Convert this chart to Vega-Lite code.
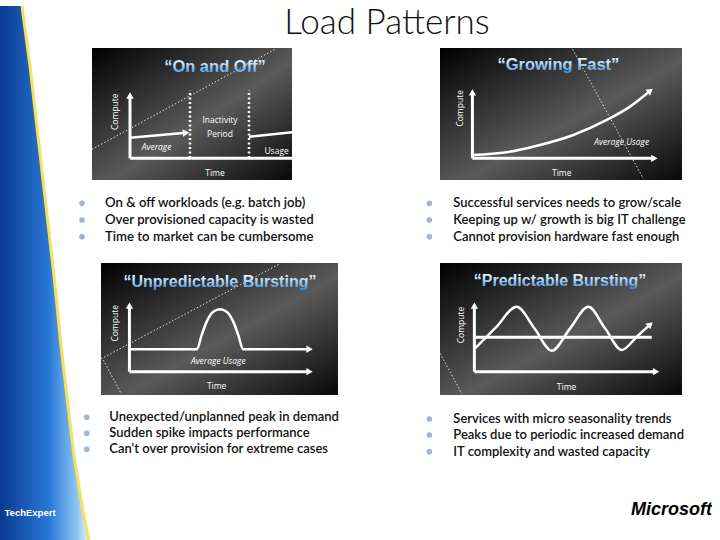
{
"$schema": "https://vega.github.io/schema/vega-lite/v6.json",
"padding": 0,
"background": "white",
"config": {"view": {"stroke": null}, "font": "Lato"},
"bounds": "flush",
"spacing": 0,
"datasets": {
"none": [],
"strip": [{"v":0,"u":28.9},{"v":11.1,"u":39.5},{"v":24.1,"u":50},{"v":37,"u":60.5},{"v":50,"u":71.1},{"v":63,"u":80.3},{"v":74.1,"u":89.5},{"v":83.3,"u":97.4},{"v":92.6,"u":107.9},{"v":100,"u":118.4}],
"axes": [
{"p":"A","s":"y","o":0,"u":19,"v":16.4},{"p":"A","s":"y","o":1,"u":19,"v":64},
{"p":"A","s":"x","o":0,"u":19,"v":16.4},{"p":"A","s":"x","o":1,"u":100,"v":16.4},
{"p":"B","s":"y","o":0,"u":13.4,"v":16.4},{"p":"B","s":"y","o":1,"u":13.4,"v":65},
{"p":"B","s":"x","o":0,"u":13.4,"v":16.4},{"p":"B","s":"x","o":1,"u":88.5,"v":16.4},
{"p":"C","s":"y","o":0,"u":12,"v":17.7},{"p":"C","s":"y","o":1,"u":12,"v":68},
{"p":"C","s":"x","o":0,"u":12,"v":17.7},{"p":"C","s":"x","o":1,"u":88,"v":17.7},
{"p":"D","s":"y","o":0,"u":14.2,"v":17.7},{"p":"D","s":"y","o":1,"u":14.2,"v":68},
{"p":"D","s":"x","o":0,"u":14.2,"v":17.7},{"p":"D","s":"x","o":1,"u":89.3,"v":17.7},
{"p":"D","s":"avg","o":0,"u":14.2,"v":43.7},{"p":"D","s":"avg","o":1,"u":87.5,"v":43.7}
],
"curves": [
{"p":"A","s":"u1","o":0,"u":19,"v":32},{"p":"A","s":"u1","o":1,"u":47,"v":35.8},
{"p":"A","s":"u2","o":0,"u":78.5,"v":32.8},{"p":"A","s":"u2","o":1,"u":100,"v":36.1},
{"p":"B","s":"g","o":0,"u":13.4,"v":18.9},{"p":"B","s":"g","o":1,"u":27.5,"v":21},{"p":"B","s":"g","o":2,"u":41.3,"v":26.5},{"p":"B","s":"g","o":3,"u":55.1,"v":34.1},{"p":"B","s":"g","o":4,"u":68.9,"v":45.5},{"p":"B","s":"g","o":5,"u":78.5,"v":55.6},{"p":"B","s":"g","o":6,"u":86.9,"v":67.6},
{"p":"C","s":"b","o":0,"u":12,"v":34.6},{"p":"C","s":"b","o":1,"u":40.4,"v":34.6},{"p":"C","s":"b","o":2,"u":42.5,"v":45.5},{"p":"C","s":"b","o":3,"u":44.6,"v":55.6},{"p":"C","s":"b","o":4,"u":47.4,"v":63.1},{"p":"C","s":"b","o":5,"u":50.2,"v":64.9},{"p":"C","s":"b","o":6,"u":53,"v":63.1},{"p":"C","s":"b","o":7,"u":55.8,"v":55.6},{"p":"C","s":"b","o":8,"u":57.9,"v":45.5},{"p":"C","s":"b","o":9,"u":60,"v":34.6},{"p":"C","s":"b","o":10,"u":88,"v":34.6},
{"p":"D","s":"w","o":0,"u":14.5,"v":35.4},{"p":"D","s":"w","o":1,"u":23,"v":51},{"p":"D","s":"w","o":2,"u":31.7,"v":66.9},{"p":"D","s":"w","o":3,"u":39,"v":50.5},{"p":"D","s":"w","o":4,"u":46.2,"v":33.6},{"p":"D","s":"w","o":5,"u":53.7,"v":50.3},{"p":"D","s":"w","o":6,"u":61.3,"v":66.9},{"p":"D","s":"w","o":7,"u":68.2,"v":50.5},{"p":"D","s":"w","o":8,"u":75.1,"v":34.1},{"p":"D","s":"w","o":9,"u":81.5,"v":44.5},{"p":"D","s":"w","o":10,"u":86.9,"v":53.5}
],
"arrows": [
{"p":"A","u":19,"v":64,"a":-90},{"p":"A","u":47,"v":35.8,"a":-5},
{"p":"B","u":13.4,"v":66.4,"a":-90},{"p":"B","u":88.6,"v":16.4,"a":0},{"p":"B","u":86.9,"v":67.6,"a":-38},
{"p":"C","u":12,"v":67.7,"a":-90},{"p":"C","u":88,"v":17.7,"a":0},{"p":"C","u":88,"v":34.6,"a":0},
{"p":"D","u":14.2,"v":67.7,"a":-90},{"p":"D","u":89.3,"v":17.7,"a":0},{"p":"D","u":86.9,"v":53.5,"a":-42}
],
"dotted": [{"p":"A","u":49,"v":16.7,"u2":49,"v2":68},{"p":"A","u":78.5,"v":16.7,"u2":78.5,"v2":68}],
"deco": [
{"p":"A","u":0,"v":23.2,"u2":91.5,"v2":99},
{"p":"B","u":54.8,"v":99,"u2":84,"v2":1},
{"p":"C","u":0,"v":27.4,"u2":75,"v2":99},
{"p":"C","u":1,"v":26.5,"u2":8.5,"v2":1},
{"p":"D","u":0,"v":31.6,"u2":9,"v2":1}
],
"labels": [
{"p":"A","k":"plain","t":"Inactivity","u":64,"v":45.5},
{"p":"A","k":"plain","t":"Period","u":64,"v":34.6},
{"p":"A","k":"italic","t":"Average","u":32.3,"v":25.2},
{"p":"A","k":"plain","t":"Usage","u":92.3,"v":22},
{"p":"A","k":"plain","t":"Time","u":61.5,"v":5.5},
{"p":"A","k":"vert","t":"Compute","u":11.5,"v":51.7},
{"p":"B","k":"italic","t":"Average Usage","u":75.1,"v":29},
{"p":"B","k":"plain","t":"Time","u":50.3,"v":5.5},
{"p":"B","k":"vert","t":"Compute","u":8.3,"v":54.3},
{"p":"C","k":"italic","t":"Average Usage","u":49.5,"v":26},
{"p":"C","k":"plain","t":"Time","u":48.8,"v":6.8},
{"p":"C","k":"vert","t":"Compute","u":5.9,"v":54.3},
{"p":"D","k":"plain","t":"Time","u":52.3,"v":6.3},
{"p":"D","k":"vert","t":"Compute","u":8.5,"v":53}
],
"titles": [
{"p":"A","t":"“On and Off”","u":61.5,"v":85.8},
{"p":"B","t":"“Growing Fast”","u":48.9,"v":87.1},
{"p":"C","t":"“Unpredictable Bursting”","u":50.2,"v":85.8},
{"p":"D","t":"“Predictable Bursting”","u":49.6,"v":86.6}
],
"bullets": [
{"p":"A","ud":1.65,"ut":7.97,"v":28.1,"t":"On & off workloads (e.g. batch job)"},
{"p":"A","ud":1.65,"ut":7.97,"v":48.2,"t":"Over provisioned capacity is wasted"},
{"p":"A","ud":1.65,"ut":7.97,"v":68.3,"t":"Time to market can be cumbersome"},
{"p":"B","ud":-4.4,"ut":5.5,"v":28.1,"t":"Successful services needs to grow/scale"},
{"p":"B","ud":-4.4,"ut":5.5,"v":48.2,"t":"Keeping up w/ growth is big IT challenge"},
{"p":"B","ud":-4.4,"ut":5.5,"v":68.3,"t":"Cannot provision hardware fast enough"},
{"p":"C","ud":2.94,"ut":9.15,"v":26.2,"t":"Unexpected/unplanned peak in demand"},
{"p":"C","ud":2.94,"ut":9.15,"v":45.1,"t":"Sudden spike impacts performance"},
{"p":"C","ud":2.94,"ut":9.15,"v":63.9,"t":"Can't over provision for extreme cases"},
{"p":"D","ud":-4.4,"ut":5.5,"v":28.2,"t":"Services with micro seasonality trends"},
{"p":"D","ud":-4.4,"ut":5.5,"v":47.1,"t":"Peaks due to periodic increased demand"},
{"p":"D","ud":-4.4,"ut":5.5,"v":66.7,"t":"IT complexity and wasted capacity"}
]
},
"hconcat": [
{"width": 76, "height": 540, "data": {"name": "strip"},
 "encoding": {"y": {"field": "v", "type": "quantitative", "scale": {"domain": [0, 100], "reverse": true, "nice": false, "zero": false}, "axis": null},
              "x": {"field": "u", "type": "quantitative", "scale": {"domain": [0, 100], "nice": false, "zero": false}, "axis": null, "stack": null}},
 "layer": [
  {"mark": {"type": "area", "orient": "horizontal", "color": {"gradient": "linear", "x1": 0, "y1": 0, "x2": 1, "y2": 0, "stops": [{"offset": 0, "color": "#0a3a92"}, {"offset": 0.55, "color": "#2a78d8"}, {"offset": 0.85, "color": "#8cc4f2"}, {"offset": 1, "color": "#e8f4ff"}]}}, "encoding": {"x2": {"datum": 0}}},
  {"mark": {"type": "line", "color": "#f2e25c", "strokeWidth": 3}, "encoding": {"order": {"field": "v"}}},
  {"data": {"values": [{"u": 39.5, "v": 94.4, "t": "TechExpert"}]}, "mark": {"type": "text", "color": "white", "fontWeight": "bold", "fontSize": 9.5, "font": "Liberation Sans", "baseline": "alphabetic"}, "encoding": {"text": {"field": "t"}}},
  {"data": {"values": [{"u": 509.2, "v": 5.26, "t": "Load Patterns"}]}, "mark": {"type": "text", "fontSize": 35, "font": "Lato", "fontWeight": 300, "color": "#111111", "baseline": "alphabetic", "align": "center"}, "encoding": {"text": {"field": "t"}}}
 ]},
{"vconcat": [
 {"width": 606, "height": 42, "data": {"name": "none"}, "mark": {"type": "point", "opacity": 0}},
 {"hconcat": [
  {"width": 16, "height": 132, "data": {"name": "none"}, "mark": {"type": "point", "opacity": 0}},
  {"hconcat": [
  {"width": 200, "height": 132,
   "view": {"fill": {"gradient": "linear", "x1": 0, "y1": 0, "x2": 1, "y2": 1, "stops": [{"offset": 0, "color": "#000000"}, {"offset": 0.55, "color": "#5a5a5a"}, {"offset": 1, "color": "#080808"}]}, "stroke": null},
   "encoding": {"x": {"field": "u", "type": "quantitative", "scale": {"domain": [0, 100], "nice": false, "zero": false}, "axis": null}, "y": {"field": "v", "type": "quantitative", "scale": {"domain": [0, 100], "nice": false, "zero": false}, "axis": null}},
   "layer": [
    {"data": {"name": "deco"}, "transform": [{"filter": "datum.p === 'A'"}], "mark": {"type": "rule", "color": "#ffffff", "strokeWidth": 1, "strokeDash": [1.5, 2], "opacity": 0.85}, "encoding": {"x2": {"field": "u2"}, "y2": {"field": "v2"}}},
    {"data": {"name": "dotted"}, "transform": [{"filter": "datum.p === 'A'"}], "mark": {"type": "rule", "color": "#ffffff", "strokeWidth": 2.5, "strokeDash": [2, 2.5]}, "encoding": {"x2": {"field": "u2"}, "y2": {"field": "v2"}}},
    {"data": {"name": "axes"}, "transform": [{"filter": "datum.p === 'A'"}], "mark": {"type": "line", "color": "#ffffff", "strokeWidth": 3}, "encoding": {"detail": {"field": "s"}, "order": {"field": "o"}}},
    {"data": {"name": "curves"}, "transform": [{"filter": "datum.p === 'A'"}], "mark": {"type": "line", "color": "#ffffff", "strokeWidth": 2.5, "interpolate": "monotone"}, "encoding": {"detail": {"field": "s"}, "order": {"field": "o"}}},
    {"data": {"name": "arrows"}, "transform": [{"filter": "datum.p === 'A'"}], "mark": {"type": "point", "shape": "triangle-right", "filled": true, "color": "#ffffff", "size": 55, "opacity": 1}, "encoding": {"angle": {"field": "a", "type": "quantitative", "scale": null}}},
    {"data": {"name": "labels"}, "transform": [{"filter": "datum.p === 'A' && datum.k === 'plain'"}], "mark": {"type": "text", "color": "#ffffff", "fontSize": 8.5, "font": "Open Sans"}, "encoding": {"text": {"field": "t"}}},
    {"data": {"name": "labels"}, "transform": [{"filter": "datum.p === 'A' && datum.k === 'italic'"}], "mark": {"type": "text", "color": "#ffffff", "fontSize": 8.5, "font": "Open Sans", "fontStyle": "italic"}, "encoding": {"text": {"field": "t"}}},
    {"data": {"name": "labels"}, "transform": [{"filter": "datum.p === 'A' && datum.k === 'vert'"}], "mark": {"type": "text", "color": "#ffffff", "fontSize": 8.5, "font": "Open Sans", "angle": 270}, "encoding": {"text": {"field": "t"}}},
    {"data": {"name": "titles"}, "transform": [{"filter": "datum.p === 'A'"}], "mark": {"type": "text", "fontSize": 16.5, "fontWeight": "bold", "font": "Liberation Sans", "color": {"gradient": "linear", "x1": 0, "y1": 0, "x2": 0, "y2": 1, "stops": [{"offset": 0, "color": "#ffffff"}, {"offset": 0.45, "color": "#b8dcf8"}, {"offset": 1, "color": "#3a8ad8"}]}}, "encoding": {"text": {"field": "t"}}}
   ]},
  {"width": 242, "height": 132,
   "view": {"fill": {"gradient": "linear", "x1": 0, "y1": 0, "x2": 1, "y2": 1, "stops": [{"offset": 0, "color": "#000000"}, {"offset": 0.55, "color": "#5a5a5a"}, {"offset": 1, "color": "#080808"}]}, "stroke": null},
   "encoding": {"x": {"field": "u", "type": "quantitative", "scale": {"domain": [0, 100], "nice": false, "zero": false}, "axis": null}, "y": {"field": "v", "type": "quantitative", "scale": {"domain": [0, 100], "nice": false, "zero": false}, "axis": null}},
   "layer": [
    {"data": {"name": "deco"}, "transform": [{"filter": "datum.p === 'B'"}], "mark": {"type": "rule", "color": "#ffffff", "strokeWidth": 1, "strokeDash": [1.5, 2], "opacity": 0.85}, "encoding": {"x2": {"field": "u2"}, "y2": {"field": "v2"}}},
    {"data": {"name": "axes"}, "transform": [{"filter": "datum.p === 'B'"}], "mark": {"type": "line", "color": "#ffffff", "strokeWidth": 3}, "encoding": {"detail": {"field": "s"}, "order": {"field": "o"}}},
    {"data": {"name": "curves"}, "transform": [{"filter": "datum.p === 'B'"}], "mark": {"type": "line", "color": "#ffffff", "strokeWidth": 2.5, "interpolate": "monotone"}, "encoding": {"detail": {"field": "s"}, "order": {"field": "o"}}},
    {"data": {"name": "arrows"}, "transform": [{"filter": "datum.p === 'B'"}], "mark": {"type": "point", "shape": "triangle-right", "filled": true, "color": "#ffffff", "size": 55, "opacity": 1}, "encoding": {"angle": {"field": "a", "type": "quantitative", "scale": null}}},
    {"data": {"name": "labels"}, "transform": [{"filter": "datum.p === 'B' && datum.k === 'plain'"}], "mark": {"type": "text", "color": "#ffffff", "fontSize": 8.5, "font": "Open Sans"}, "encoding": {"text": {"field": "t"}}},
    {"data": {"name": "labels"}, "transform": [{"filter": "datum.p === 'B' && datum.k === 'italic'"}], "mark": {"type": "text", "color": "#ffffff", "fontSize": 8.5, "font": "Open Sans", "fontStyle": "italic"}, "encoding": {"text": {"field": "t"}}},
    {"data": {"name": "labels"}, "transform": [{"filter": "datum.p === 'B' && datum.k === 'vert'"}], "mark": {"type": "text", "color": "#ffffff", "fontSize": 8.5, "font": "Open Sans", "angle": 270}, "encoding": {"text": {"field": "t"}}},
    {"data": {"name": "titles"}, "transform": [{"filter": "datum.p === 'B'"}], "mark": {"type": "text", "fontSize": 16.5, "fontWeight": "bold", "font": "Liberation Sans", "color": {"gradient": "linear", "x1": 0, "y1": 0, "x2": 0, "y2": 1, "stops": [{"offset": 0, "color": "#ffffff"}, {"offset": 0.45, "color": "#b8dcf8"}, {"offset": 1, "color": "#3a8ad8"}]}}, "encoding": {"text": {"field": "t"}}}
   ]}
  ], "spacing": 148, "bounds": "flush"}
 ], "spacing": 0, "bounds": "flush"},
 {"hconcat": [
  {"width": 364, "height": 83, "data": {"name": "bullets"}, "transform": [{"filter": "datum.p === 'A'"}],
   "encoding": {"y": {"field": "v", "type": "quantitative", "scale": {"domain": [0, 100], "reverse": true}, "axis": null}},
   "layer": [
    {"mark": {"type": "point", "filled": true, "color": "#9db7dc", "size": 32, "opacity": 1}, "encoding": {"x": {"field": "ud", "type": "quantitative", "scale": {"domain": [0, 100]}, "axis": null}}},
    {"mark": {"type": "text", "align": "left", "font": "Lato", "fontSize": 13.2, "fontWeight": 600, "color": "#111111"}, "encoding": {"x": {"field": "ut", "type": "quantitative", "scale": {"domain": [0, 100]}, "axis": null}, "text": {"field": "t"}}}
   ]},
  {"width": 242, "height": 83, "data": {"name": "bullets"}, "transform": [{"filter": "datum.p === 'B'"}],
   "encoding": {"y": {"field": "v", "type": "quantitative", "scale": {"domain": [0, 100], "reverse": true}, "axis": null}},
   "layer": [
    {"mark": {"type": "point", "filled": true, "color": "#9db7dc", "size": 32, "opacity": 1}, "encoding": {"x": {"field": "ud", "type": "quantitative", "scale": {"domain": [0, 100]}, "axis": null}}},
    {"mark": {"type": "text", "align": "left", "font": "Lato", "fontSize": 13, "fontWeight": 600, "color": "#111111"}, "encoding": {"x": {"field": "ut", "type": "quantitative", "scale": {"domain": [0, 100]}, "axis": null}, "text": {"field": "t"}}}
   ]}
 ], "spacing": 0, "bounds": "flush"},
 {"hconcat": [
  {"width": 25, "height": 132, "data": {"name": "none"}, "mark": {"type": "point", "opacity": 0}},
  {"hconcat": [
   {"width": 237, "height": 132,
    "view": {"fill": {"gradient": "linear", "x1": 0, "y1": 0, "x2": 1, "y2": 1, "stops": [{"offset": 0, "color": "#000000"}, {"offset": 0.55, "color": "#5a5a5a"}, {"offset": 1, "color": "#080808"}]}, "stroke": null},
    "encoding": {"x": {"field": "u", "type": "quantitative", "scale": {"domain": [0, 100], "nice": false, "zero": false}, "axis": null}, "y": {"field": "v", "type": "quantitative", "scale": {"domain": [0, 100], "nice": false, "zero": false}, "axis": null}},
    "layer": [
     {"data": {"name": "deco"}, "transform": [{"filter": "datum.p === 'C'"}], "mark": {"type": "rule", "color": "#ffffff", "strokeWidth": 1, "strokeDash": [1.5, 2], "opacity": 0.85}, "encoding": {"x2": {"field": "u2"}, "y2": {"field": "v2"}}},
     {"data": {"name": "axes"}, "transform": [{"filter": "datum.p === 'C'"}], "mark": {"type": "line", "color": "#ffffff", "strokeWidth": 3}, "encoding": {"detail": {"field": "s"}, "order": {"field": "o"}}},
     {"data": {"name": "curves"}, "transform": [{"filter": "datum.p === 'C'"}], "mark": {"type": "line", "color": "#ffffff", "strokeWidth": 2.5, "interpolate": "monotone"}, "encoding": {"detail": {"field": "s"}, "order": {"field": "o"}}},
     {"data": {"name": "arrows"}, "transform": [{"filter": "datum.p === 'C'"}], "mark": {"type": "point", "shape": "triangle-right", "filled": true, "color": "#ffffff", "size": 55, "opacity": 1}, "encoding": {"angle": {"field": "a", "type": "quantitative", "scale": null}}},
     {"data": {"name": "labels"}, "transform": [{"filter": "datum.p === 'C' && datum.k === 'plain'"}], "mark": {"type": "text", "color": "#ffffff", "fontSize": 8.5, "font": "Open Sans"}, "encoding": {"text": {"field": "t"}}},
     {"data": {"name": "labels"}, "transform": [{"filter": "datum.p === 'C' && datum.k === 'italic'"}], "mark": {"type": "text", "color": "#ffffff", "fontSize": 8.5, "font": "Open Sans", "fontStyle": "italic"}, "encoding": {"text": {"field": "t"}}},
     {"data": {"name": "labels"}, "transform": [{"filter": "datum.p === 'C' && datum.k === 'vert'"}], "mark": {"type": "text", "color": "#ffffff", "fontSize": 8.5, "font": "Open Sans", "angle": 270}, "encoding": {"text": {"field": "t"}}},
     {"data": {"name": "titles"}, "transform": [{"filter": "datum.p === 'C'"}], "mark": {"type": "text", "fontSize": 16, "fontWeight": "bold", "font": "Liberation Sans", "color": {"gradient": "linear", "x1": 0, "y1": 0, "x2": 0, "y2": 1, "stops": [{"offset": 0, "color": "#ffffff"}, {"offset": 0.45, "color": "#b8dcf8"}, {"offset": 1, "color": "#3a8ad8"}]}}, "encoding": {"text": {"field": "t"}}}
    ]},
   {"width": 242, "height": 132,
    "view": {"fill": {"gradient": "linear", "x1": 0, "y1": 0, "x2": 1, "y2": 1, "stops": [{"offset": 0, "color": "#000000"}, {"offset": 0.55, "color": "#5a5a5a"}, {"offset": 1, "color": "#080808"}]}, "stroke": null},
    "encoding": {"x": {"field": "u", "type": "quantitative", "scale": {"domain": [0, 100], "nice": false, "zero": false}, "axis": null}, "y": {"field": "v", "type": "quantitative", "scale": {"domain": [0, 100], "nice": false, "zero": false}, "axis": null}},
    "layer": [
     {"data": {"name": "deco"}, "transform": [{"filter": "datum.p === 'D'"}], "mark": {"type": "rule", "color": "#ffffff", "strokeWidth": 1, "strokeDash": [1.5, 2], "opacity": 0.85}, "encoding": {"x2": {"field": "u2"}, "y2": {"field": "v2"}}},
     {"data": {"name": "axes"}, "transform": [{"filter": "datum.p === 'D'"}], "mark": {"type": "line", "color": "#ffffff", "strokeWidth": 3}, "encoding": {"detail": {"field": "s"}, "order": {"field": "o"}}},
     {"data": {"name": "curves"}, "transform": [{"filter": "datum.p === 'D'"}], "mark": {"type": "line", "color": "#ffffff", "strokeWidth": 2.5, "interpolate": "monotone"}, "encoding": {"detail": {"field": "s"}, "order": {"field": "o"}}},
     {"data": {"name": "arrows"}, "transform": [{"filter": "datum.p === 'D'"}], "mark": {"type": "point", "shape": "triangle-right", "filled": true, "color": "#ffffff", "size": 55, "opacity": 1}, "encoding": {"angle": {"field": "a", "type": "quantitative", "scale": null}}},
     {"data": {"name": "labels"}, "transform": [{"filter": "datum.p === 'D' && datum.k === 'plain'"}], "mark": {"type": "text", "color": "#ffffff", "fontSize": 8.5, "font": "Open Sans"}, "encoding": {"text": {"field": "t"}}},
     {"data": {"name": "labels"}, "transform": [{"filter": "datum.p === 'D' && datum.k === 'vert'"}], "mark": {"type": "text", "color": "#ffffff", "fontSize": 8.5, "font": "Open Sans", "angle": 270}, "encoding": {"text": {"field": "t"}}},
     {"data": {"name": "titles"}, "transform": [{"filter": "datum.p === 'D'"}], "mark": {"type": "text", "fontSize": 16, "fontWeight": "bold", "font": "Liberation Sans", "color": {"gradient": "linear", "x1": 0, "y1": 0, "x2": 0, "y2": 1, "stops": [{"offset": 0, "color": "#ffffff"}, {"offset": 0.45, "color": "#b8dcf8"}, {"offset": 1, "color": "#3a8ad8"}]}}, "encoding": {"text": {"field": "t"}}}
    ]}
  ], "spacing": 102, "bounds": "flush"}
 ], "spacing": 0, "bounds": "flush"},
 {"hconcat": [
  {"width": 364, "height": 85, "data": {"name": "bullets"}, "transform": [{"filter": "datum.p === 'C'"}],
   "encoding": {"y": {"field": "v", "type": "quantitative", "scale": {"domain": [0, 100], "reverse": true}, "axis": null}},
   "layer": [
    {"mark": {"type": "point", "filled": true, "color": "#9db7dc", "size": 32, "opacity": 1}, "encoding": {"x": {"field": "ud", "type": "quantitative", "scale": {"domain": [0, 100]}, "axis": null}}},
    {"mark": {"type": "text", "align": "left", "font": "Lato", "fontSize": 13, "fontWeight": 600, "color": "#111111"}, "encoding": {"x": {"field": "ut", "type": "quantitative", "scale": {"domain": [0, 100]}, "axis": null}, "text": {"field": "t"}}}
   ]},
  {"width": 242, "height": 85, "data": {"name": "bullets"}, "transform": [{"filter": "datum.p === 'D'"}],
   "encoding": {"y": {"field": "v", "type": "quantitative", "scale": {"domain": [0, 100], "reverse": true}, "axis": null}},
   "layer": [
    {"mark": {"type": "point", "filled": true, "color": "#9db7dc", "size": 32, "opacity": 1}, "encoding": {"x": {"field": "ud", "type": "quantitative", "scale": {"domain": [0, 100]}, "axis": null}}},
    {"mark": {"type": "text", "align": "left", "font": "Lato", "fontSize": 13, "fontWeight": 600, "color": "#111111"}, "encoding": {"x": {"field": "ut", "type": "quantitative", "scale": {"domain": [0, 100]}, "axis": null}, "text": {"field": "t"}}}
   ]}
 ], "spacing": 0, "bounds": "flush"},
 {"width": 636, "height": 60, "data": {"values": [{"u": 100, "v": 58.3, "t": "Microsoft"}]},
  "mark": {"type": "text", "align": "right", "baseline": "alphabetic", "font": "Liberation Sans", "fontWeight": "bold", "fontStyle": "italic", "fontSize": 18, "color": "#000000"},
  "encoding": {"x": {"field": "u", "type": "quantitative", "scale": {"domain": [0, 100]}, "axis": null}, "y": {"field": "v", "type": "quantitative", "scale": {"domain": [0, 100], "reverse": true}, "axis": null}, "text": {"field": "t"}}}
], "spacing": 0, "bounds": "full"}
]
}
